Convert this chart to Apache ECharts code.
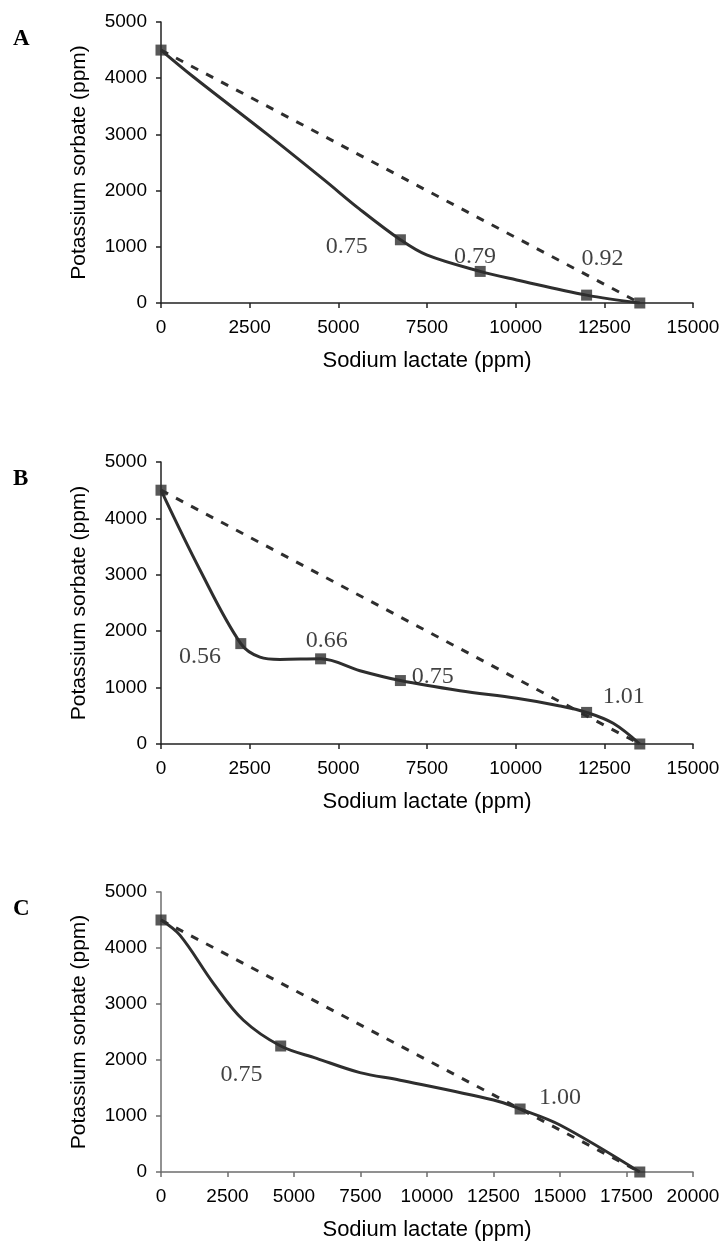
<!DOCTYPE html>
<html>
<head>
<meta charset="utf-8">
<script src="https://cdn.jsdelivr.net/npm/echarts@6/dist/echarts.min.js"></script>
<style>
  html, body { margin: 0; padding: 0; background: #fff; }
  #main { width: 721px; height: 1241px; }
</style>
</head>
<body>
<div id="main"></div>
<script>
// panel A - isobologram, sodium lactate vs potassium sorbate
const aCurve = [[0, 4500], [900, 4030], [3000, 3000], [4600, 2190], [5600, 1670], [6750, 1125],
    [7490, 855], [9000, 562], [10030, 410], [12000, 140], [13500, 0]];
const aMarks = [[0, 4500], [6750, 1125], [9000, 562], [12000, 140], [13500, 0]];
const aAdditive = [[0, 4500], [13500, 0]];
const aNotes = ['0.75', '0.79', '0.92'];
const aNoteAt = [[5240, 1000], [8850, 820], [12450, 780]];

// panel B
const bCurve = [[0, 4500], [1100, 3085], [2250, 1780], [2790, 1540], [3350, 1500],
    [4500, 1510], [5610, 1300], [6750, 1125], [8430, 945], [10030, 810], [11250, 675], [12000, 560],
    [12750, 367], [13500, 0]];
const bMarks = [[0, 4500], [2250, 1780], [4500, 1510], [6750, 1125], [12000, 560], [13500, 0]];
const bAdditive = [[0, 4500], [13500, 0]];
const bNotes = ['0.56', '0.66', '0.75', '1.01'];
const bNoteAt = [[1100, 1540], [4670, 1840], [7660, 1190], [13050, 830]];

// panel C
const cCurve = [[0, 4500], [710, 4230], [1970, 3370], [3100, 2710], [4500, 2250], [5850, 2030],
    [7480, 1775], [8990, 1640], [12500, 1285], [13500, 1125], [15000, 840], [18000, 0]];
const cMarks = [[0, 4500], [4500, 2250], [13500, 1125], [18000, 0]];
const cAdditive = [[0, 4500], [18000, 0]];
const cNotes = ['0.75', '1.00'];
const cNoteAt = [[3030, 1730], [15000, 1320]];

const xStep = 2500, yStep = 1000;
const letters = ['A', 'B', 'C'];
const xMaxes = [15000, 15000, 20000];
const gridTops = [22, 462, 892];
const gridHeights = [281, 282, 280];
const axisColors = ['#222', '#222', '#6e6e6e'];

const ink = '#2e2e2e';
const sans = 'Liberation Sans, Arial, sans-serif';
const serif = 'Liberation Serif, Times New Roman, serif';

const panels = [
    {curve: aCurve, marks: aMarks, add: aAdditive, notes: aNotes, at: aNoteAt},
    {curve: bCurve, marks: bMarks, add: bAdditive, notes: bNotes, at: bNoteAt},
    {curve: cCurve, marks: cMarks, add: cAdditive, notes: cNotes, at: cNoteAt}
];

let option = {
    backgroundColor: '#fff',
    animation: false,
    title: [],
    grid: [],
    xAxis: [],
    yAxis: [],
    series: []
};

function plain(value) {
    return String(value);
}

panels.forEach(function (p, i) {
    option.title.push({
        text: letters[i],
        left: 8,
        top: gridTops[i] + 1,
        textStyle: {fontFamily: serif, fontWeight: 'bold', fontSize: 23, color: '#000'}
    });
    option.grid.push({
        left: 161, right: 28, top: gridTops[i], height: gridHeights[i],
        containLabel: false, outerBoundsMode: 'none'
    });
    const lineStyle = {color: axisColors[i], width: 1.5};
    option.xAxis.push({
        gridIndex: i,
        type: 'value',
        min: 0,
        max: xMaxes[i],
        interval: xStep,
        axisLine: {show: true, onZero: false, lineStyle: lineStyle},
        axisTick: {show: true, length: 5, lineStyle: lineStyle},
        splitLine: {show: false},
        axisLabel: {color: '#000', fontFamily: sans, fontSize: 19, margin: 15, formatter: plain},
        name: 'Sodium lactate (ppm)',
        nameLocation: 'middle',
        nameGap: 47,
        nameTextStyle: {color: '#000', fontFamily: sans, fontSize: 22}
    });
    option.yAxis.push({
        gridIndex: i,
        type: 'value',
        min: 0,
        max: 5000,
        interval: yStep,
        axisLine: {show: true, onZero: false, lineStyle: lineStyle},
        axisTick: {show: true, length: 5, lineStyle: lineStyle},
        splitLine: {show: false},
        axisLabel: {color: '#000', fontFamily: sans, fontSize: 19, margin: 14, formatter: plain},
        name: 'Potassium sorbate (ppm)',
        nameLocation: 'middle',
        nameGap: 71,
        nameTextStyle: {color: '#000', fontFamily: sans, fontSize: 21}
    });
    // additive (dashed) line
    option.series.push({
        type: 'line',
        xAxisIndex: i, yAxisIndex: i,
        data: p.add,
        symbol: 'none',
        lineStyle: {color: ink, width: 3, type: [8, 9]},
        z: 2
    });
    // observed isobole
    option.series.push({
        type: 'line',
        xAxisIndex: i, yAxisIndex: i,
        data: p.curve,
        symbol: 'none',
        smooth: 0.35,
        lineStyle: {color: ink, width: 3},
        z: 3
    });
    option.series.push({
        type: 'scatter',
        xAxisIndex: i, yAxisIndex: i,
        data: p.marks,
        symbol: 'rect',
        symbolSize: 11,
        itemStyle: {color: ink},
        z: 4
    });
    option.series.push({
        type: 'scatter',
        xAxisIndex: i, yAxisIndex: i,
        data: p.at.map(function (xy, k) { return {value: xy, name: p.notes[k]}; }),
        symbolSize: 2,
        itemStyle: {color: 'rgba(0,0,0,0)'},
        label: {
            show: true,
            position: 'inside',
            formatter: '{b}',
            color: '#111',
            fontFamily: serif,
            fontSize: 24
        },
        z: 5
    });
});

const myChart = echarts.init(document.getElementById('main'), null, {renderer: 'canvas'});
myChart.setOption(option);
</script>
</body>
</html>
